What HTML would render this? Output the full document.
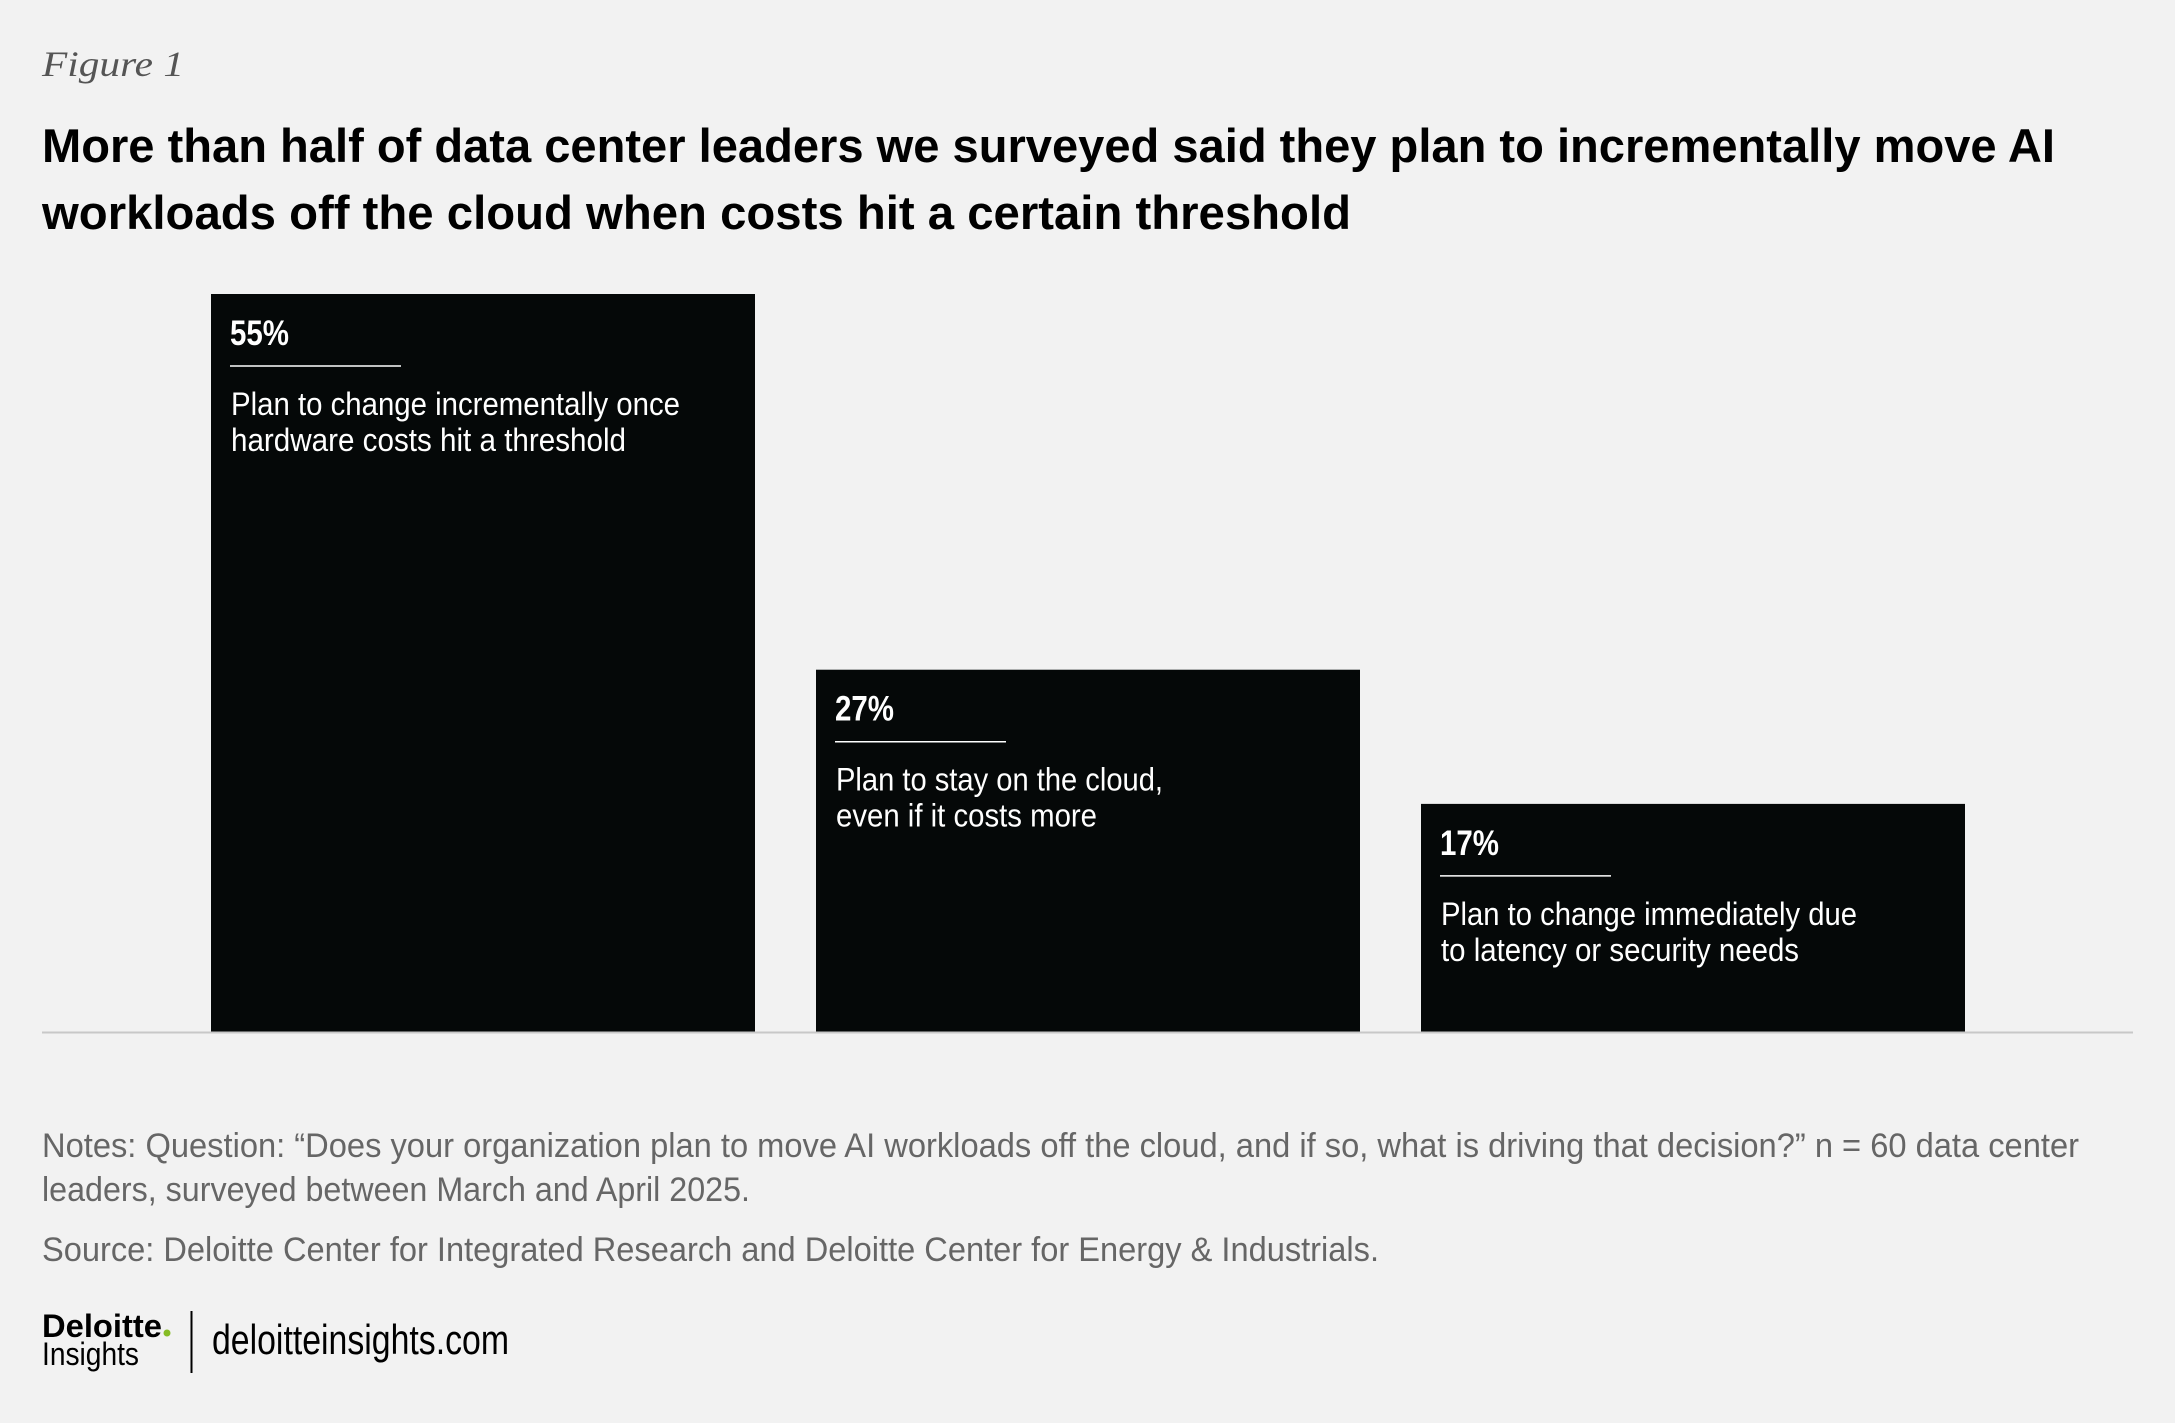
<!DOCTYPE html>
<html><head><meta charset="utf-8"><style>
html,body{margin:0;padding:0;background:#f2f2f2;}
svg{display:block;}
</style></head><body>
<svg id="chart" width="2175" height="1423" viewBox="0 0 2175 1423" xmlns="http://www.w3.org/2000/svg">
<rect width="2175" height="1423" fill="#f2f2f2"/>
<text x="42" y="76" font-family="Liberation Serif, serif" font-style="italic" font-size="36" fill="#555" textLength="142" lengthAdjust="spacingAndGlyphs">Figure 1</text>
<text x="42" y="162" font-family="Liberation Sans, sans-serif" font-weight="bold" font-size="47" fill="#000" textLength="2013" lengthAdjust="spacingAndGlyphs">More than half of data center leaders we surveyed said they plan to incrementally move AI</text>
<text x="42" y="229" font-family="Liberation Sans, sans-serif" font-weight="bold" font-size="47" fill="#000" textLength="1309" lengthAdjust="spacingAndGlyphs">workloads off the cloud when costs hit a certain threshold</text>
<g id="bars"></g>
<line x1="42" y1="1032.5" x2="2133" y2="1032.5" stroke="#c8c8c8" stroke-width="2"/>
<text x="42" y="1157" font-family="Liberation Sans, sans-serif" font-size="34" fill="#666" textLength="2037" lengthAdjust="spacingAndGlyphs">Notes: Question: “Does your organization plan to move AI workloads off the cloud, and if so, what is driving that decision?” n = 60 data center</text>
<text x="42" y="1201" font-family="Liberation Sans, sans-serif" font-size="34" fill="#666" textLength="708" lengthAdjust="spacingAndGlyphs">leaders, surveyed between March and April 2025.</text>
<text x="42" y="1261" font-family="Liberation Sans, sans-serif" font-size="34" fill="#666" textLength="1337" lengthAdjust="spacingAndGlyphs">Source: Deloitte Center for Integrated Research and Deloitte Center for Energy &amp; Industrials.</text>
<text x="42" y="1337" font-family="Liberation Sans, sans-serif" font-weight="bold" font-size="32" fill="#000" textLength="120" lengthAdjust="spacingAndGlyphs">Deloitte</text>
<circle cx="167" cy="1333" r="3.5" fill="#86bc25"/>
<text x="42" y="1365" font-family="Liberation Sans, sans-serif" font-size="32" fill="#000" textLength="97" lengthAdjust="spacingAndGlyphs">Insights</text>
<line x1="191.5" y1="1311" x2="191.5" y2="1373" stroke="#000" stroke-width="2"/>
<text x="212" y="1354" font-family="Liberation Sans, sans-serif" font-size="42" fill="#000" textLength="297" lengthAdjust="spacingAndGlyphs">deloitteinsights.com</text>
</svg>
<script>
const categories = ["Plan to change incrementally once|hardware costs hit a threshold","Plan to stay on the cloud,|even if it costs more","Plan to change immediately due|to latency or security needs"];
const values = [55, 27, 17];
const valueLabels = ["55%", "27%", "17%"];
const lineWidths = [[449, 395], [327, 261], [416, 358]];

const NS = "http://www.w3.org/2000/svg";
const baseY = 1032, pxPerUnit = 738 / 55;
function yScale(v){ return baseY - v * pxPerUnit; }
function xScale(i){ return 211 + i * 605; }
const barW = 544;
const g = document.getElementById('bars');
values.forEach((v, i) => {
  const x = xScale(i), top = yScale(v);
  const r = document.createElementNS(NS, 'rect');
  
  
  r.setAttribute('x', x); r.setAttribute('y', top);
  r.setAttribute('width', barW); r.setAttribute('height', baseY - top);
  r.setAttribute('fill', '#050808');
  g.appendChild(r);
  const t = document.createElementNS(NS, 'text');
  
  
  t.setAttribute('x', x + 19); t.setAttribute('y', top + 51);
  t.setAttribute('font-family', 'Liberation Sans, sans-serif');
  t.setAttribute('font-weight', 'bold'); t.setAttribute('font-size', '35');
  t.setAttribute('fill', '#fff');
  t.setAttribute('textLength', '59'); t.setAttribute('lengthAdjust', 'spacingAndGlyphs');
  t.textContent = valueLabels[i];
  g.appendChild(t);
  const l = document.createElementNS(NS, 'line');
  
  
  l.setAttribute('x1', x + 19); l.setAttribute('x2', x + 190);
  l.setAttribute('y1', top + 72); l.setAttribute('y2', top + 72);
  l.setAttribute('stroke', '#fff'); l.setAttribute('stroke-width', '1.5');
  g.appendChild(l);
  categories[i].split('|').forEach((line, j) => {
    const c = document.createElementNS(NS, 'text');
    
    
    c.setAttribute('x', x + 20); c.setAttribute('y', top + 121 + j * 36);
    c.setAttribute('font-family', 'Liberation Sans, sans-serif');
    c.setAttribute('font-size', '32'); c.setAttribute('fill', '#fff');
    c.setAttribute('textLength', lineWidths[i][j]);
    c.setAttribute('lengthAdjust', 'spacingAndGlyphs');
    c.textContent = line;
    g.appendChild(c);
  });
});
</script>
</body></html>
